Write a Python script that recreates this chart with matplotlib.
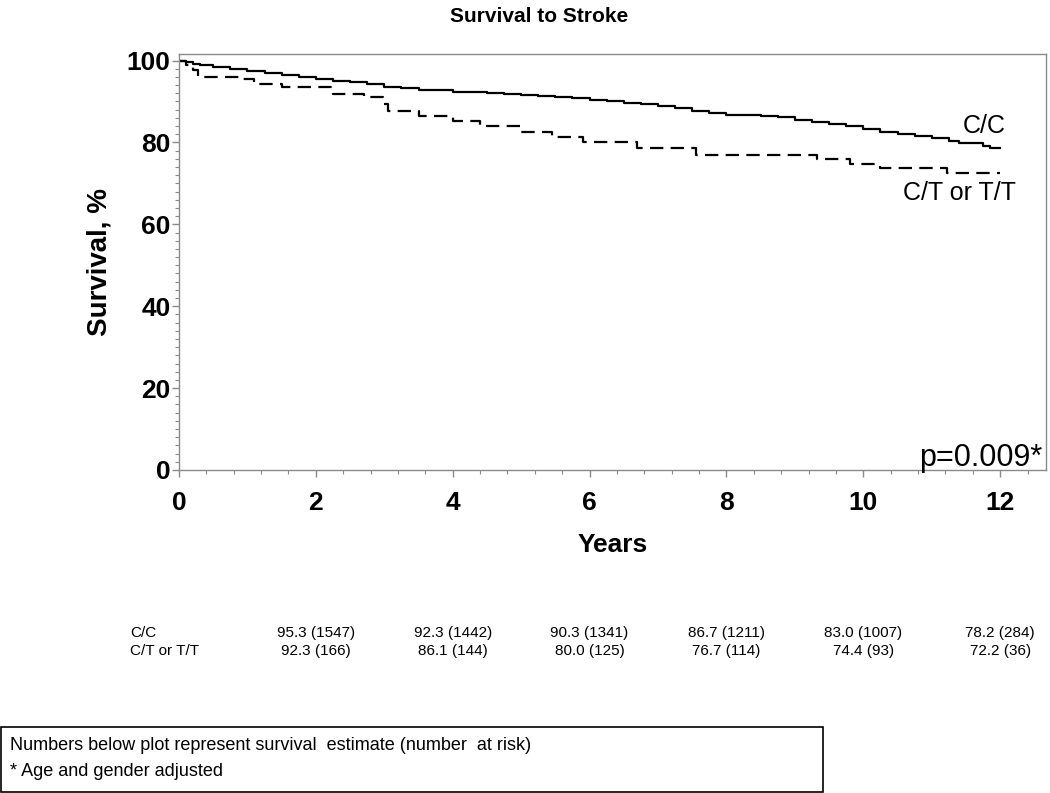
import matplotlib
matplotlib.use("Agg")
import matplotlib.pyplot as plt
from matplotlib.ticker import MultipleLocator
from matplotlib.patches import Rectangle

# ---- data ----
cc_time = [0, 0.1, 0.2, 0.3, 0.5, 0.75, 1.0, 1.25, 1.5, 1.75, 2.0, 2.25, 2.5, 2.75, 3.0,
           3.25, 3.5, 3.75, 4.0, 4.25, 4.5, 4.75, 5.0, 5.25, 5.5, 5.75, 6.0, 6.25, 6.5,
           6.75, 7.0, 7.25, 7.5, 7.75, 8.0, 8.25, 8.5, 8.75, 9.0, 9.25, 9.5, 9.75, 10.0,
           10.25, 10.5, 10.75, 11.0, 11.25, 11.4, 11.75, 11.85, 12.0]
cc_surv = [100, 99.6, 99.2, 98.8, 98.4, 98.0, 97.5, 97.0, 96.5, 96.0, 95.4, 95.1, 94.8, 94.3, 93.5,
           93.2, 92.9, 92.7, 92.4, 92.3, 92.1, 91.9, 91.7, 91.4, 91.1, 90.8, 90.4, 90.1, 89.7,
           89.3, 88.8, 88.3, 87.8, 87.3, 86.8, 86.6, 86.4, 86.1, 85.5, 85.0, 84.6, 84.0, 83.3,
           82.5, 82.0, 81.5, 81.0, 80.4, 79.8, 79.2, 78.6, 78.6]

ct_time = [0, 0.1, 0.2, 0.28, 0.9, 1.1, 1.5, 2.25, 2.7, 2.98, 3.05, 3.5, 4.0, 4.4, 5.0,
           5.45, 5.9, 6.7, 7.55, 9.33, 9.8, 10.25, 11.22, 12.0]
ct_surv = [100, 98.9, 97.8, 96.0, 95.5, 94.3, 93.5, 91.9, 91.0, 89.5, 87.8, 86.4, 85.3, 84.1, 82.6,
           81.3, 80.0, 78.7, 77.0, 76.0, 74.8, 73.8, 72.5, 72.5]

table_times = [2, 4, 6, 8, 10, 12]
cc_table = ["95.3 (1547)", "92.3 (1442)", "90.3 (1341)", "86.7 (1211)", "83.0 (1007)", "78.2 (284)"]
ct_table = ["92.3 (166)", "86.1 (144)", "80.0 (125)", "76.7 (114)", "74.4 (93)", "72.2 (36)"]
group_labels = ["C/C", "C/T or T/T"]

x_ticks = [0, 2, 4, 6, 8, 10, 12]
y_ticks = [0, 20, 40, 60, 80, 100]

arial = ["Liberation Sans", "DejaVu Sans"]

fig = plt.figure(figsize=(10.5, 7.93), dpi=100)
ax = fig.add_axes([179/1050, 1-470/793, (1046-179)/1050, (470-54)/793])

ax.step(cc_time, cc_surv, where="post", color="black", lw=1.6)
ax.step(ct_time, ct_surv, where="post", color="black", lw=1.6, dashes=(6, 3.3))

ax.set_xlim(0, 12.67)
ax.set_ylim(0, 101.6)
ax.set_xticks(x_ticks)
ax.set_yticks(y_ticks)
ax.xaxis.set_minor_locator(MultipleLocator(0.4))
ax.yaxis.set_minor_locator(MultipleLocator(2))
for s in ax.spines.values():
    s.set_color("#8a8a8a")
    s.set_linewidth(1.0)
ax.tick_params(axis="both", which="major", length=5, color="#8a8a8a", width=1)
ax.tick_params(axis="both", which="minor", length=3, color="#8a8a8a", width=0.8)
ax.tick_params(axis="x", which="major", pad=10)
ax.tick_params(axis="y", which="major", pad=1)
for lab in ax.get_xticklabels() + ax.get_yticklabels():
    lab.set_fontfamily(arial)
    lab.set_fontweight("bold")
    lab.set_fontsize(19)

ax.set_xlabel("Years", fontfamily=arial, fontweight="bold", fontsize=19, labelpad=13)
ax.set_ylabel("Survival, %", fontfamily=arial, fontweight="bold", fontsize=20, labelpad=10)

fig.text(0.513, 1-16/793, "Survival to Stroke", ha="center", va="center",
         fontfamily=arial, fontweight="bold", fontsize=15)

ax.text(11.46, 83.9, group_labels[0], ha="left", va="center", fontfamily=arial, fontsize=18)
ax.text(10.58, 67.6, group_labels[1], ha="left", va="center", fontfamily=arial, fontsize=18)
ax.text(12.62, 0.9, "p=0.009*", ha="right", va="baseline", fontfamily=arial, fontsize=22)

# number-at-risk table
row_y = [1-633/793, 1-651/793]
rows = [cc_table, ct_table]
for i in range(2):
    fig.text(130/1050, row_y[i], group_labels[i], ha="left", va="center",
             fontfamily=arial, fontsize=11)
    for t, s in zip(table_times, rows[i]):
        xf = ax.transData.transform((t, 0))[0] / fig.bbox.width
        fig.text(xf, row_y[i], s, ha="center", va="center", fontfamily=arial, fontsize=11)

# footnote box
fig.patches.append(Rectangle((1/1050, 1-792/793), 822/1050, 65/793, transform=fig.transFigure,
                             fill=False, edgecolor="black", lw=1.2))
fig.text(10/1050, 1-746/793, "Numbers below plot represent survival  estimate (number  at risk)",
         ha="left", va="center", fontfamily=arial, fontsize=13)
fig.text(10/1050, 1-772/793, "* Age and gender adjusted",
         ha="left", va="center", fontfamily=arial, fontsize=13)

fig.savefig("out.png", dpi=100)
